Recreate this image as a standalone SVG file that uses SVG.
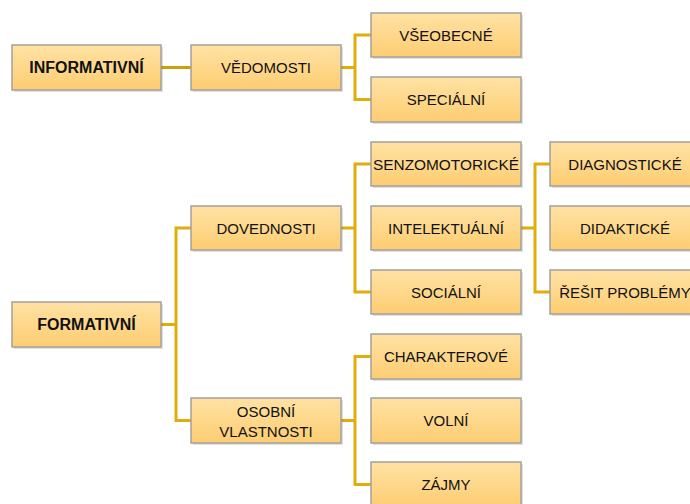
<svg xmlns="http://www.w3.org/2000/svg" width="690" height="504" viewBox="0 0 690 504">
<defs>
<linearGradient id="g" x1="0" y1="0" x2="0" y2="1">
<stop offset="0" stop-color="#FFE2A4"/>
<stop offset="1" stop-color="#FDCD72"/>
</linearGradient>
<style>
.b{fill:url(#g);stroke:#A5A09A;stroke-width:1.5}
.s{fill:#000;opacity:0.12}
.t{font-family:"Liberation Sans",Arial,sans-serif;font-size:15px;fill:#111;text-anchor:middle}
.tb{font-family:"Liberation Sans",Arial,sans-serif;font-size:16px;font-weight:bold;fill:#111;text-anchor:middle}
.c{fill:none;stroke:#E0AE0C;stroke-width:3}
.c2{fill:none;stroke:#CDA106;stroke-width:3}
</style>
</defs>
<rect width="690" height="504" fill="#fff"/>
<g id="connectors">
<path class="c2" d="M161 67.5H191"/>
<path class="c" d="M341 67.5H355M371 35H355V99.5H371"/>
<path class="c" d="M161 324.5H176M191 228H176V420.5H191"/>
<path class="c" d="M341 228H355M371 164H355V292H371"/>
<path class="c" d="M521 228H535M550 164H535V292H550"/>
<path class="c" d="M341 420.5H355M371 356.5H355V484.5H371"/>
</g>
<g id="informativni"><rect class="s" x="14" y="47" width="149" height="45"/><rect class="b" x="12" y="45" width="149" height="45"/><text class="tb" x="86.5" y="73">INFORMATIVNÍ</text></g>
<g id="vedomosti"><rect class="s" x="193" y="47" width="150" height="45"/><rect class="b" x="191" y="45" width="150" height="45"/><text class="t" x="266" y="73">VĚDOMOSTI</text></g>
<g id="vseobecne"><rect class="s" x="373" y="15" width="150" height="44"/><rect class="b" x="371" y="13" width="150" height="44"/><text class="t" x="446" y="40.5">VŠEOBECNÉ</text></g>
<g id="specialni"><rect class="s" x="373" y="79" width="150" height="45"/><rect class="b" x="371" y="77" width="150" height="45"/><text class="t" x="446" y="105">SPECIÁLNÍ</text></g>
<g id="formativni"><rect class="s" x="14" y="304" width="149" height="45"/><rect class="b" x="12" y="302" width="149" height="45"/><text class="tb" x="86.5" y="330">FORMATIVNÍ</text></g>
<g id="dovednosti"><rect class="s" x="193" y="208" width="150" height="44"/><rect class="b" x="191" y="206" width="150" height="44"/><text class="t" x="266" y="233.5">DOVEDNOSTI</text></g>
<g id="osobni"><rect class="s" x="193" y="400" width="150" height="45"/><rect class="b" x="191" y="398" width="150" height="45"/><text class="t" x="266" y="417">OSOBNÍ</text><text class="t" x="266" y="437">VLASTNOSTI</text></g>
<g id="senzomotoricke"><rect class="s" x="373" y="144" width="150" height="44"/><rect class="b" x="371" y="142" width="150" height="44"/><text class="t" x="446" y="169.5" textLength="146" lengthAdjust="spacingAndGlyphs">SENZOMOTORICKÉ</text></g>
<g id="intelektualni"><rect class="s" x="373" y="208" width="150" height="44"/><rect class="b" x="371" y="206" width="150" height="44"/><text class="t" x="446" y="233.5">INTELEKTUÁLNÍ</text></g>
<g id="socialni"><rect class="s" x="373" y="272" width="150" height="44"/><rect class="b" x="371" y="270" width="150" height="44"/><text class="t" x="446" y="297.5">SOCIÁLNÍ</text></g>
<g id="diagnosticke"><rect class="s" x="552" y="144" width="150" height="44"/><rect class="b" x="550" y="142" width="150" height="44"/><text class="t" x="625" y="169.5">DIAGNOSTICKÉ</text></g>
<g id="didakticke"><rect class="s" x="552" y="208" width="150" height="44"/><rect class="b" x="550" y="206" width="150" height="44"/><text class="t" x="625" y="233.5">DIDAKTICKÉ</text></g>
<g id="resit"><rect class="s" x="552" y="272" width="150" height="44"/><rect class="b" x="550" y="270" width="150" height="44"/><text class="t" x="625" y="297.5">ŘEŠIT PROBLÉMY</text></g>
<g id="charakterove"><rect class="s" x="373" y="336" width="150" height="45"/><rect class="b" x="371" y="334" width="150" height="45"/><text class="t" x="446" y="362">CHARAKTEROVÉ</text></g>
<g id="volni"><rect class="s" x="373" y="400" width="150" height="45"/><rect class="b" x="371" y="398" width="150" height="45"/><text class="t" x="446" y="426">VOLNÍ</text></g>
<g id="zajmy"><rect class="s" x="373" y="464" width="150" height="45"/><rect class="b" x="371" y="462" width="150" height="45"/><text class="t" x="446" y="490">ZÁJMY</text></g>
</svg>
